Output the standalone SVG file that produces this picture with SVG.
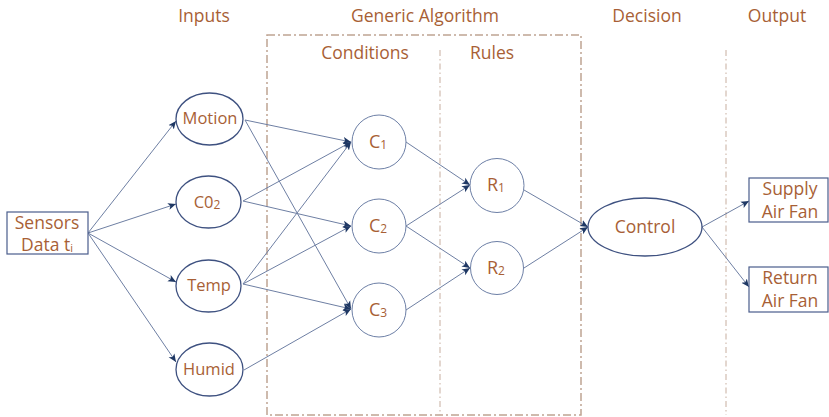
<svg xmlns="http://www.w3.org/2000/svg" width="829" height="417" viewBox="0 0 829 417">
<defs>
<marker id="ah" markerUnits="userSpaceOnUse" markerWidth="9" markerHeight="8" refX="8" refY="4" orient="auto">
<path d="M0,0.5 L8,4 L0,7.5 L2,4 Z" fill="#1F3864"/>
</marker>
<style>
text{font-family:"Open Sans","Liberation Sans",sans-serif;fill:#A85F36;text-anchor:middle}
.hd{font-size:17.5px}
.nd{font-size:16.5px}
.cr{font-size:18px}
.node{fill:#fff;stroke:#3E5180;stroke-width:1.3}
.cnode{fill:#fff;stroke:#6D7FA6;stroke-width:1}
.box{fill:#fff;stroke:#4A5D8C;stroke-width:1.2}
.conn line{stroke:#6E7FA3;stroke-width:1;marker-end:url(#ah)}
.dd{fill:none;stroke:#BFA493;stroke-width:1.5;stroke-dasharray:8 3 2 3}
.dv{fill:none;stroke:#C7AE9F;stroke-width:1;stroke-dasharray:6 3 1.5 3}
</style>
</defs>
<rect width="829" height="417" fill="#fff"/>
<g id="headers">
<text class="hd" x="204" y="22">Inputs</text>
<text class="hd" x="425" y="22">Generic Algorithm</text>
<text class="hd" x="647" y="22">Decision</text>
<text class="hd" x="777" y="22">Output</text>
<text class="hd" x="365" y="59">Conditions</text>
<text class="hd" x="492" y="59">Rules</text>
</g>
<g id="regions">
<rect class="dd" x="267" y="35" width="314" height="380"/>
<line class="dv" x1="440" y1="50" x2="440" y2="415"/>
<line class="dv" x1="726" y1="50" x2="726" y2="415"/>
</g>
<g class="conn" id="connectors">
<line x1="88" y1="233" x2="176" y2="121"/>
<line x1="88" y1="233" x2="176" y2="204"/>
<line x1="88" y1="233" x2="176" y2="282"/>
<line x1="88" y1="233" x2="176" y2="362"/>
<line x1="245" y1="120" x2="351" y2="142"/>
<line x1="245" y1="120" x2="351" y2="309"/>
<line x1="243" y1="201" x2="351" y2="142"/>
<line x1="243" y1="201" x2="351" y2="226"/>
<line x1="243" y1="284" x2="351" y2="142"/>
<line x1="243" y1="284" x2="351" y2="226"/>
<line x1="243" y1="284" x2="351" y2="309"/>
<line x1="244" y1="370" x2="351" y2="309"/>
<line x1="406" y1="142" x2="470" y2="185"/>
<line x1="406" y1="226" x2="470" y2="185"/>
<line x1="406" y1="226" x2="470" y2="268"/>
<line x1="406" y1="310" x2="470" y2="268"/>
<line x1="524" y1="190" x2="588" y2="227"/>
<line x1="524" y1="268" x2="588" y2="227"/>
<line x1="702" y1="227" x2="749" y2="201"/>
<line x1="702" y1="227" x2="749" y2="287"/>
</g>
<g id="sensors">
<rect class="box" x="7" y="212" width="81" height="42"/>
<text class="hd" x="47" y="229">Sensors</text>
<text class="hd" x="47" y="251">Data t<tspan font-size="11" dy="1">i</tspan></text>
</g>
<g id="motion"><ellipse class="node" cx="209.5" cy="119" rx="33.5" ry="26"/><text class="nd" x="210" y="124">Motion</text></g>
<g id="co2"><ellipse class="node" cx="208.5" cy="202" rx="32.5" ry="26"/><text class="nd" x="207" y="208">C0<tspan font-size="12" dy="1">2</tspan></text></g>
<g id="temp"><ellipse class="node" cx="208.5" cy="286" rx="32.5" ry="26"/><text class="nd" x="209" y="291">Temp</text></g>
<g id="humid"><ellipse class="node" cx="209.5" cy="369.5" rx="33.5" ry="26.5"/><text class="nd" x="209" y="375">Humid</text></g>
<g id="c1"><circle class="cnode" cx="379" cy="142" r="27"/><text class="cr" x="378" y="148">C<tspan font-size="12" dy="0.5">1</tspan></text></g>
<g id="c2"><circle class="cnode" cx="379" cy="226" r="27"/><text class="cr" x="378" y="232">C<tspan font-size="12" dy="0.5">2</tspan></text></g>
<g id="c3"><circle class="cnode" cx="379" cy="310" r="27"/><text class="cr" x="378" y="316">C<tspan font-size="12" dy="0.5">3</tspan></text></g>
<g id="r1"><circle class="cnode" cx="497" cy="185.5" r="27"/><text class="cr" x="496" y="191">R<tspan font-size="12" dy="0.5">1</tspan></text></g>
<g id="r2"><circle class="cnode" cx="497" cy="268" r="26.5"/><text class="cr" x="496" y="274">R<tspan font-size="12" dy="0.5">2</tspan></text></g>
<g id="control"><ellipse class="node" cx="645" cy="227" rx="57" ry="29"/><text class="hd" x="645" y="233">Control</text></g>
<g id="supply"><rect class="box" x="749" y="178" width="79" height="44"/><text class="hd" x="790" y="195">Supply</text><text class="hd" x="790" y="218">Air Fan</text></g>
<g id="return"><rect class="box" x="749" y="267" width="79" height="45"/><text class="hd" x="790" y="284">Return</text><text class="hd" x="790" y="307">Air Fan</text></g>
</svg>
